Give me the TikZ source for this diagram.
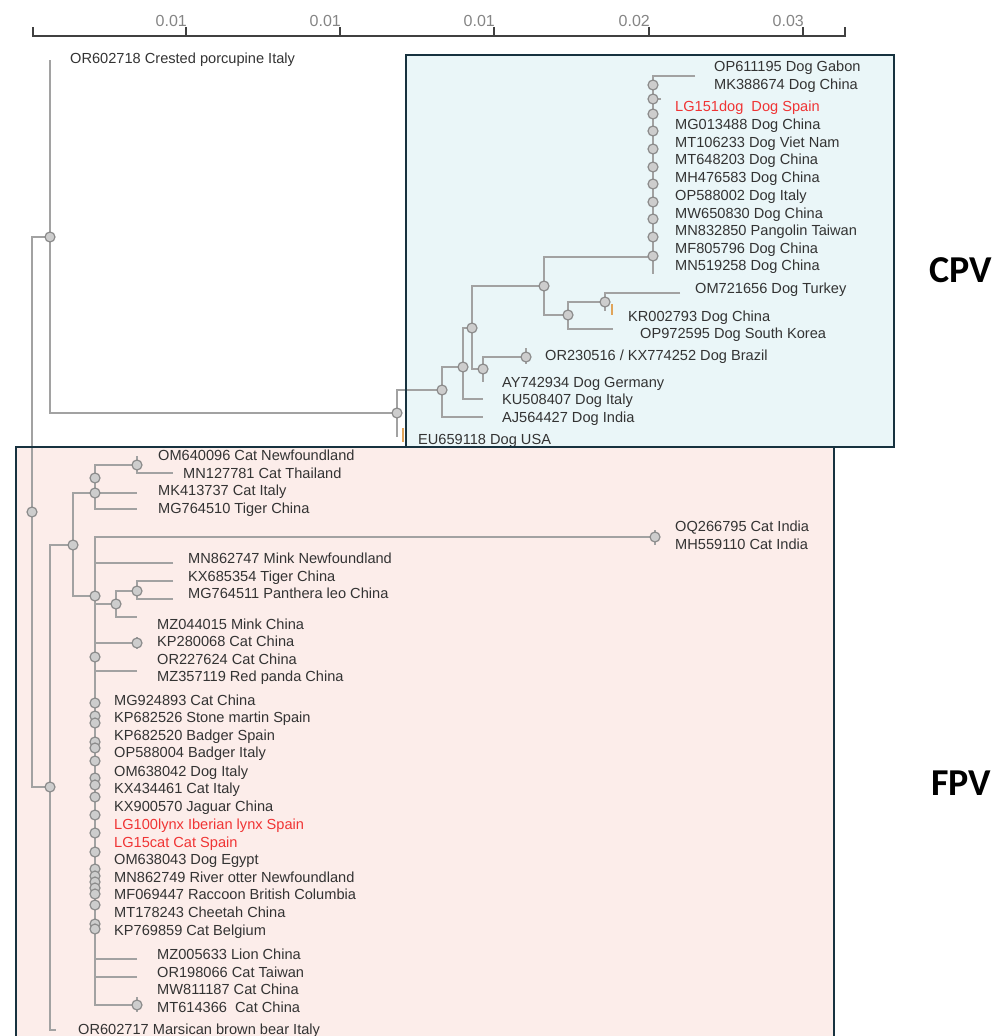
\documentclass[tikz,border=0pt]{standalone}
\usepackage{fontspec}
\setmainfont{Liberation Sans}
\newfontfamily\grpfont{Carlito}
\definecolor{brgray}{HTML}{A2A2A2}
\definecolor{ndline}{HTML}{8C8C8C}
\definecolor{ndfill}{HTML}{CDCDCD}
\definecolor{txt}{HTML}{333333}
\definecolor{redtxt}{HTML}{F03434}
\definecolor{cpvfill}{HTML}{EAF6F8}
\definecolor{fpvfill}{HTML}{FCEDEA}
\definecolor{boxline}{HTML}{17323F}
\definecolor{axgray}{HTML}{858585}
\definecolor{axline}{HTML}{404040}
\definecolor{orng}{HTML}{E0A45A}
\begin{document}
\begin{tikzpicture}[x=1pt,y=-1pt,
  br/.style={draw=brgray, line width=2.6pt},
  nd/.style={circle, draw=ndline, fill=ndfill, line width=1.2pt, minimum size=10pt, inner sep=0pt},
  lb/.style={anchor=base west, inner sep=0pt, text=txt, font=\fontsize{14.6}{17}\selectfont},
  lr/.style={lb, text=redtxt},
  bx/.style={draw=boxline, line width=2.6pt},
  axl/.style={anchor=base east, inner sep=0pt, text=axgray, font=\fontsize{16}{18}\selectfont},
  grp/.style={anchor=base west, inner sep=0pt, text=black, font=\grpfont\bfseries\fontsize{38}{40}\selectfont},
  otick/.style={draw=orng, line width=1.2pt}]
\useasboundingbox (0,0) rectangle (1003,1036);
% background boxes
\fill[cpvfill] (406,55) rectangle (894,447);
\fill[fpvfill] (16,447) rectangle (834,1040);

% ---------- coordinates ----------
\coordinate (r0) at (32,512);
\coordinate (rA) at (50,237);
\coordinate (rB) at (50,787);
\coordinate (porc) at (50,60);
% CPV
\coordinate (cA) at (397,413);
\coordinate (eu) at (397,437);
\coordinate (cB) at (442,390);
\coordinate (aj) at (483,417);
\coordinate (cC) at (463,367);
\coordinate (ku) at (483,399);
\coordinate (cD) at (472,328);
\coordinate (cE) at (544,286);
\coordinate (cF) at (483,369);
\coordinate (bz) at (526,357);
\coordinate (bz1) at (526,348);
\coordinate (bz2) at (526,364);
\coordinate (ay) at (483,382);
\coordinate (dg) at (653,257);
\coordinate (cG) at (568,315);
\coordinate (cH) at (605,302);
\coordinate (op97) at (613,329);
\coordinate (om72) at (680,293);
\coordinate (kr) at (605,311);
\coordinate (dtopr) at (695,76);
\coordinate (dbot) at (653,274);
\coordinate (dtk) at (661,99);
% FPV
\coordinate (fA) at (73,545);
\coordinate (bear) at (56,1030);
\coordinate (fB) at (95,493);
\coordinate (fB2) at (95,478);
\coordinate (fP) at (95,596);
\coordinate (fC) at (137,465);
\coordinate (mg7645) at (137,509);
\coordinate (mk4137) at (137,493);
\coordinate (om640) at (137,456);
\coordinate (mn127) at (173,473);
\coordinate (fQ) at (655,537);
\coordinate (fQ1) at (655,530);
\coordinate (fQ2) at (655,545);
\coordinate (fT) at (137,1005);
\coordinate (fT1) at (137,997);
\coordinate (fT2) at (137,1012);
\coordinate (mn8627) at (173,563);
\coordinate (fR) at (116,604);
\coordinate (fS) at (137,643);
\coordinate (fS1) at (137,637);
\coordinate (fS2) at (137,649);
\coordinate (or227) at (95,657);
\coordinate (mz357) at (137,671);
\coordinate (mz005) at (137,959);
\coordinate (or198) at (137,977);
\coordinate (fU) at (137,591);
\coordinate (mz044) at (137,617);
\coordinate (kx685) at (173,581);
\coordinate (mg7646) at (173,599);

% ---------- branches ----------
\draw[br] (porc) -- (rA) |- (cA);
\draw[br] (rA) -| (r0) |- (rB);
\draw[br] (eu) |- (cB);
\draw[br] (cC) -| (cB) |- (aj);
\draw[br] (cD) -| (cC) |- (ku);
\draw[br] (cE) -| (cD) |- (cF);
\draw[br] (bz) -| (cF) -- (ay);
\draw[br] (bz1) -- (bz2);
\draw[br] (dg) -| (cE) |- (cG);
\draw[br] (cH) -| (cG) |- (op97);
\draw[br] (om72) -| (cH) -- (kr);
\draw[br] (dtopr) -| (dbot);
\draw[br] (dtk) -- (dtk -| dg);

\draw[br] (fA) -| (rB) |- (bear);
\draw[br] (fB) -| (fA) |- (fP);
\draw[br] (fC) -| (fB) |- (mg7645);
\draw[br] (fB) -- (mk4137);
\draw[br] (om640) -- (fC) |- (mn127);
\draw[br] (fQ) -| (fP) |- (fT);
\draw[br] (fQ1) -- (fQ2);
\draw[br] (fT1) -- (fT2);
\draw[br] (fS1) -- (fS2);
\draw[br] (mn8627) -- (mn8627 -| fP);
\draw[br] (fR) -- (fR -| fP);
\draw[br] (fS) -- (fS -| fP);
\draw[br] (mz357) -- (mz357 -| fP);
\draw[br] (mz005) -- (mz005 -| fP);
\draw[br] (or198) -- (or198 -| fP);
\draw[br] (fU) -| (fR) |- (mz044);
\draw[br] (kx685) -| (fU) |- (mg7646);

% ---------- node circles ----------
\foreach \c in {r0,rA,rB,cA,cB,cC,cD,cE,cF,bz,cG,cH,fA,fB,fB2,fC,fP,fQ,fR,fS,or227,fU,fT}
  \node[nd] (n-\c) at (\c) {};
\foreach \y [count=\i] in {85,99,114,131,149,167,184,202,219,237,256}
  \node[nd] (dc\i) at (653,\y) {};
\foreach \y [count=\i] in {703,716,723,742,748,761,778,785,797,815,833,852,869,876,882,888,894,905,924,929}
  \node[nd] (fc\i) at (95,\y) {};

% orange marks
\coordinate (o1a) at (612,304); \coordinate (o1b) at (612,315);
\coordinate (o2a) at (403,428); \coordinate (o2b) at (403,442);
\draw[otick] (o1a) -- (o1b);
\draw[otick] (o2a) -- (o2b);

% ---------- labels CPV ----------
\node[lb] (t-porc) at (70,63) {OR602718 Crested porcupine Italy};
\node[lb] (t1) at (714,71) {OP611195 Dog Gabon};
\node[lb] (t2) at (714,89) {MK388674 Dog China};
\node[lr] (t3) at (675,111) {LG151dog\ \ Dog Spain};
\node[lb] (t4) at (675,129) {MG013488 Dog China};
\node[lb] (t5) at (675,147) {MT106233 Dog Viet Nam};
\node[lb] (t6) at (675,164) {MT648203 Dog China};
\node[lb] (t7) at (675,182) {MH476583 Dog China};
\node[lb] (t8) at (675,200) {OP588002 Dog Italy};
\node[lb] (t9) at (675,218) {MW650830 Dog China};
\node[lb] (t10) at (675,235) {MN832850 Pangolin Taiwan};
\node[lb] (t11) at (675,253) {MF805796 Dog China};
\node[lb] (t12) at (675,270) {MN519258 Dog China};
\node[lb] (t13) at (695,293) {OM721656 Dog Turkey};
\node[lb] (t14) at (628,321) {KR002793 Dog China};
\node[lb] (t15) at (640,338) {OP972595 Dog South Korea};
\node[lb] (t16) at (545,360) {OR230516 / KX774252 Dog Brazil};
\node[lb] (t17) at (502,387) {AY742934 Dog Germany};
\node[lb] (t18) at (502,404) {KU508407 Dog Italy};
\node[lb] (t19) at (502,422) {AJ564427 Dog India};
\node[lb] (t20) at (418,444) {EU659118 Dog USA};

% ---------- labels FPV ----------
\node[lb] (f1) at (158,460) {OM640096 Cat Newfoundland};
\node[lb] (f2) at (183,478) {MN127781 Cat Thailand};
\node[lb] (f3) at (158,495) {MK413737 Cat Italy};
\node[lb] (f4) at (158,513) {MG764510 Tiger China};
\node[lb] (f5) at (675,531) {OQ266795 Cat India};
\node[lb] (f6) at (675,549) {MH559110 Cat India};
\node[lb] (f7) at (188,563) {MN862747 Mink Newfoundland};
\node[lb] (f8) at (188,581) {KX685354 Tiger China};
\node[lb] (f9) at (188,598) {MG764511 Panthera leo China};
\node[lb] (f10) at (157,629) {MZ044015 Mink China};
\node[lb] (f11) at (157,646) {KP280068 Cat China};
\node[lb] (f12) at (157,664) {OR227624 Cat China};
\node[lb] (f13) at (157,681) {MZ357119 Red panda China};
\node[lb] (f14) at (114,705) {MG924893 Cat China};
\node[lb] (f15) at (114,722) {KP682526 Stone martin Spain};
\node[lb] (f16) at (114,740) {KP682520 Badger Spain};
\node[lb] (f17) at (114,757) {OP588004 Badger Italy};
\node[lb] (f18) at (114,776) {OM638042 Dog Italy};
\node[lb] (f19) at (114,793) {KX434461 Cat Italy};
\node[lb] (f20) at (114,811) {KX900570 Jaguar China};
\node[lr] (f21) at (114,829) {LG100lynx Iberian lynx Spain};
\node[lr] (f22) at (114,847) {LG15cat Cat Spain};
\node[lb] (f23) at (114,864) {OM638043 Dog Egypt};
\node[lb] (f24) at (114,882) {MN862749 River otter Newfoundland};
\node[lb] (f25) at (114,899) {MF069447 Raccoon British Columbia};
\node[lb] (f26) at (114,917) {MT178243 Cheetah China};
\node[lb] (f27) at (114,935) {KP769859 Cat Belgium};
\node[lb] (f28) at (157,959) {MZ005633 Lion China};
\node[lb] (f29) at (157,977) {OR198066 Cat Taiwan};
\node[lb] (f30) at (157,994) {MW811187 Cat China};
\node[lb] (f31) at (157,1012) {MT614366\ \ Cat China};
\node[lb] (f32) at (78,1034) {OR602717 Marsican brown bear Italy};

% ---------- box borders ----------
\draw[bx] (406,55) rectangle (894,447);
\draw[bx] (16,1045) -- (16,447) -- (834,447) -- (834,1045);

% ---------- axis ----------
\coordinate (axL) at (33,36);
\coordinate (axR) at (845,36);
\draw[draw=axline, line width=1.3pt] (33,27) -- (axL) -- (axR) -- (845,27);
\foreach \x in {186,340,494,649,803}
  \draw[draw=axline, line width=1.3pt] (\x,36) -- (\x,27);
\node[axl] (ax1) at (187,26) {0.01};
\node[axl] (ax2) at (341,26) {0.01};
\node[axl] (ax3) at (495,26) {0.01};
\node[axl] (ax4) at (650,26) {0.02};
\node[axl] (ax5) at (804,26) {0.03};

% ---------- group labels ----------
\node[grp] (cpv) at (929,282) {CPV};
\node[grp] (fpv) at (931,795) {FPV};
\end{tikzpicture}
\end{document}
